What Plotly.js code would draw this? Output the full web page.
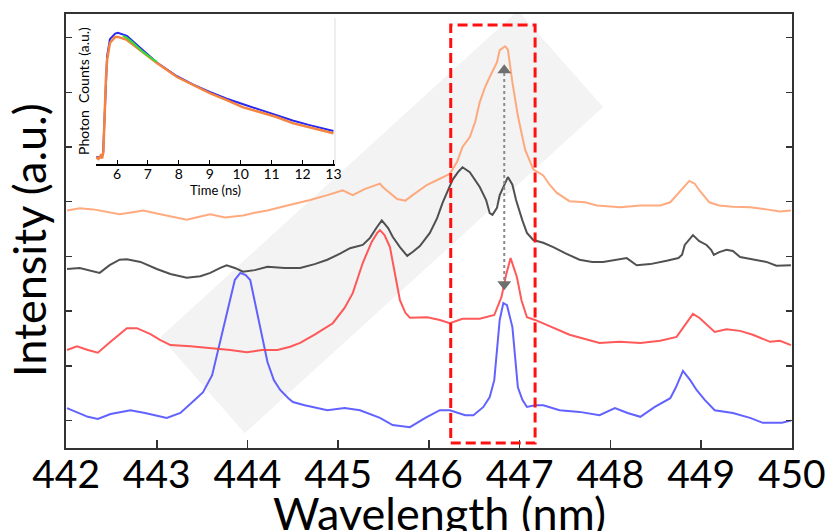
<!DOCTYPE html>
<html>
<head>
<meta charset="utf-8">
<script src="https://cdn.plot.ly/plotly-3.0.1.min.js"></script>
<style>html,body{margin:0;padding:0;background:#fff;}#chart{width:825px;height:531px;}</style>
</head>
<body>
<div id="chart"></div>
<script>
// ---- Main spectra (wavelength in nm, intensity offset in a.u.) ----
const blueX = [442.01,442.12,442.24,442.35,442.49,442.71,442.87,443.11,443.26,443.42,443.51,443.61,443.70,443.79,443.86,443.92,443.98,444.03,444.12,444.22,444.29,444.36,444.45,444.50,444.63,444.88,445.07,445.24,445.46,445.60,445.79,445.96,446.12,446.23,446.40,446.49,446.60,446.67,446.72,446.75,446.78,446.82,446.86,446.92,446.95,446.98,447.03,447.08,447.17,447.26,447.44,447.66,447.88,448.05,448.19,448.33,448.49,448.66,448.72,448.80,448.88,448.95,449.04,449.15,449.35,449.54,449.68,449.89,449.99];
const blueY = [0.23,0.16,0.07,0.03,0.12,0.19,0.14,0.05,0.14,0.38,0.52,0.83,1.47,2.11,2.57,2.70,2.66,2.57,1.84,1.07,0.74,0.56,0.41,0.34,0.28,0.19,0.23,0.19,0.05,-0.08,-0.12,0.05,0.19,0.19,0.10,0.10,0.25,0.43,0.74,1.29,1.84,2.15,2.11,1.71,1.20,0.61,0.38,0.25,0.28,0.28,0.19,0.16,0.10,0.23,0.14,0.07,0.25,0.41,0.60,0.91,0.74,0.56,0.38,0.19,0.14,0.05,-0.04,-0.04,0.00];

const redX = [442.01,442.12,442.24,442.35,442.49,442.67,442.78,442.93,443.04,443.15,443.37,443.59,443.81,443.99,444.16,444.33,444.47,444.58,444.74,444.94,445.07,445.16,445.27,445.37,445.43,445.46,445.51,445.57,445.63,445.68,445.74,445.79,445.98,446.12,446.23,446.37,446.56,446.72,446.80,446.85,446.90,446.97,447.02,447.08,447.17,447.30,447.55,447.88,448.10,448.33,448.55,448.73,448.82,448.91,448.98,449.15,449.28,449.43,449.57,449.76,449.87,449.99];
const redY = [1.29,1.36,1.29,1.24,1.44,1.69,1.69,1.58,1.47,1.38,1.36,1.33,1.29,1.25,1.29,1.29,1.35,1.42,1.57,1.78,2.06,2.33,2.88,3.27,3.43,3.48,3.39,3.17,2.66,2.20,1.97,1.88,1.89,1.84,1.78,1.86,1.86,1.93,2.26,2.66,2.97,2.62,2.20,1.89,1.84,1.75,1.57,1.42,1.44,1.42,1.46,1.53,1.75,1.95,1.88,1.62,1.67,1.64,1.57,1.44,1.46,1.38];

const blackX = [442.01,442.15,442.37,442.48,442.59,442.67,442.82,443.00,443.15,443.33,443.48,443.59,443.70,443.77,443.86,443.95,444.08,444.22,444.41,444.58,444.74,444.88,445.02,445.13,445.27,445.35,445.42,445.48,445.55,445.60,445.68,445.76,445.82,445.90,446.01,446.09,446.15,446.21,446.26,446.32,446.37,446.45,446.56,446.63,446.67,446.70,446.75,446.78,446.83,446.87,446.92,446.96,447.03,447.08,447.15,447.26,447.37,447.50,447.66,447.80,447.92,448.05,448.18,448.29,448.44,448.62,448.75,448.79,448.82,448.91,448.98,449.06,449.11,449.14,449.20,449.28,449.35,449.43,449.56,449.72,449.83,449.99];
const blackY = [2.77,2.79,2.70,2.84,2.94,2.95,2.90,2.77,2.68,2.61,2.64,2.70,2.79,2.84,2.79,2.72,2.75,2.81,2.79,2.79,2.86,2.94,3.05,3.15,3.21,3.34,3.52,3.66,3.52,3.36,3.17,3.01,3.08,3.19,3.43,3.70,3.98,4.21,4.40,4.54,4.63,4.54,4.27,4.03,3.79,3.76,3.89,4.12,4.31,4.45,4.31,4.03,3.66,3.43,3.30,3.25,3.17,3.06,2.94,2.90,2.90,2.94,2.97,2.84,2.86,2.92,2.97,3.03,3.21,3.39,3.28,3.21,3.12,3.03,3.08,3.12,3.10,2.99,2.95,2.90,2.83,2.84];

const orangeX = [442.01,442.15,442.30,442.43,442.59,442.70,442.85,443.04,443.20,443.33,443.48,443.59,443.75,443.95,444.08,444.22,444.36,444.50,444.69,444.88,445.05,445.16,445.29,445.46,445.49,445.65,445.74,445.82,445.98,446.12,446.23,446.31,446.37,446.45,446.51,446.56,446.62,446.67,446.75,446.78,446.84,446.87,446.92,446.98,447.06,447.15,447.26,447.33,447.41,447.55,447.72,447.85,448.11,448.33,448.55,448.66,448.73,448.80,448.87,448.93,448.98,449.09,449.20,449.35,449.54,449.72,449.87,449.99];
const orangeY = [3.84,3.88,3.86,3.82,3.77,3.80,3.84,3.77,3.71,3.67,3.73,3.77,3.71,3.75,3.80,3.84,3.90,3.95,4.03,4.12,4.21,4.12,4.23,4.33,4.27,4.05,4.02,4.12,4.31,4.42,4.51,4.73,5.00,5.18,5.46,5.82,6.10,6.28,6.55,6.77,6.84,6.78,6.18,5.57,4.95,4.59,4.48,4.31,4.16,4.01,3.99,3.93,3.90,3.93,3.93,3.99,4.12,4.27,4.38,4.33,4.21,3.99,3.93,3.91,3.90,3.86,3.82,3.84];

// ---- Inset: time-resolved decay (time in ns, normalised counts) ----
const decayOrangeT = [5.32,5.40,5.47,5.52,5.56,5.60,5.64,5.68,5.77,5.94,6.03,6.32,6.74,7.29,7.94,8.45,9.00,9.55,10.06,10.61,11.16,11.68,12.23,12.77,13.00];
const decayOrangeC = [0.054,0.040,0.065,0.045,0.10,0.40,0.65,0.80,0.93,0.977,0.977,0.954,0.877,0.777,0.669,0.608,0.546,0.492,0.438,0.400,0.362,0.315,0.285,0.254,0.238];
const decayBlueT = [5.32,5.47,5.55,5.60,5.64,5.68,5.77,5.94,6.03,6.32,6.74,7.29,7.94,8.45,9.00,9.55,10.06,10.61,11.16,11.68,12.23,12.77,13.00];
const decayBlueC = [0.054,0.054,0.08,0.40,0.67,0.83,0.96,1.003,1.008,0.985,0.895,0.780,0.675,0.612,0.554,0.502,0.462,0.418,0.377,0.335,0.300,0.266,0.254];
const fitT = [6.19,6.32,6.50,6.84,7.10,7.29];
const fitC = [0.985,0.969,0.935,0.862,0.815,0.785];
const insetTicks = [6,7,8,9,10,11,12,13];

// ---- Annotations (data coordinates) ----
const bandCorners = {x:[443.04,443.97,447.92,446.98], y:[1.53,-0.23,5.73,7.49]};
const boxX = [446.24,447.17], boxY = [-0.41,7.23];
const arrowX = 446.83, arrowTop = 6.50, arrowBottom = 2.39;
const xTicks = [442,443,444,445,446,447,448,449,450];
const yTicks = [0,1,2,3,4,5,6,7];

const line = (c,w)=>({color:c,width:w});
const traces = [
  {x:blueX,y:blueY,mode:'lines',line:line('rgba(70,70,255,0.85)',2),xaxis:'x',yaxis:'y'},
  {x:redX,y:redY,mode:'lines',line:line('rgba(255,60,60,0.85)',2),xaxis:'x',yaxis:'y'},
  {x:blackX,y:blackY,mode:'lines',line:line('rgba(50,50,50,0.85)',2),xaxis:'x',yaxis:'y'},
  {x:orangeX,y:orangeY,mode:'lines',line:line('rgba(255,150,95,0.8)',2),xaxis:'x',yaxis:'y'},
  {x:[arrowX,arrowX],y:[arrowTop-0.10,arrowBottom+0.10],mode:'markers',
   marker:{symbol:['triangle-up','triangle-down'],size:12,color:'#6f6f6f'},xaxis:'x',yaxis:'y'},
  {x:decayBlueT,y:decayBlueC,mode:'lines',line:line('#2a2aee',2),xaxis:'x2',yaxis:'y2'},
  {x:decayOrangeT,y:decayOrangeC,mode:'lines',line:line('#f5823e',2.5),xaxis:'x2',yaxis:'y2'},
  {x:fitT,y:fitC,mode:'lines',line:line('#33dd33',2),xaxis:'x2',yaxis:'y2'}
];

const bandPath = 'M '+bandCorners.x.map((v,i)=>v+','+bandCorners.y[i]).join(' L ')+' Z';

const layout = {
  width:825,height:531,
  margin:{l:66,r:33,t:14,b:83},
  paper_bgcolor:'#fff',plot_bgcolor:'#fff',
  showlegend:false,
  font:{family:'Lato, "Open Sans", sans-serif',color:'#000'},
  xaxis:{domain:[0,1],range:[441.999,450.002],tickvals:xTicks,ticks:'inside',ticklen:8,tickwidth:1.5,tickcolor:'#333',
    showline:true,linecolor:'#333',linewidth:2,mirror:true,showgrid:false,zeroline:false,
    ticklabeloverflow:'allow',ticklabelstandoff:-9,
    tickfont:{size:39,family:'Lato, sans-serif'}},
  yaxis:{domain:[0,1],range:[-0.5,7.43],tickvals:yTicks,showticklabels:false,ticks:'inside',ticklen:6,tickwidth:1.5,tickcolor:'#333',
    showline:true,linecolor:'#333',linewidth:2,mirror:'ticks',showgrid:false,zeroline:false},
  xaxis2:{domain:[0.0413,0.3705],anchor:'y2',range:[5.32,13.05],tickvals:insetTicks,ticks:'inside',ticklen:4,tickcolor:'#000',
    showline:true,linecolor:'#000',linewidth:1.5,showgrid:false,zeroline:false,ticklabelstandoff:-3,
    tickfont:{size:14,family:'Lato, sans-serif'},
    title:{text:'Time (ns)',font:{size:13,family:'Lato, sans-serif'},standoff:0}},
  yaxis2:{domain:[0.654,0.991],anchor:'x2',range:[0,1.123],showticklabels:false,ticks:'',showline:false,showgrid:false,zeroline:false,
    title:{text:'Photon  Counts (a.u.)',font:{size:14,family:'Lato, sans-serif'},standoff:2}},
  annotations:[
    {text:'Wavelength (nm)',xref:'paper',yref:'paper',x:0.515,y:0,xanchor:'center',yanchor:'middle',yshift:-65,
     showarrow:false,font:{size:45,family:'Lato, sans-serif',color:'#000'}},
    {text:'Intensity (a.u.)',xref:'paper',yref:'paper',x:0,y:0.479,xanchor:'center',yanchor:'middle',xshift:-37,textangle:-90,
     showarrow:false,font:{size:45,family:'Lato, sans-serif',color:'#000'}}
  ],
  shapes:[
    {type:'path',path:bandPath,xref:'x',yref:'y',fillcolor:'#f3f3f3',line:{width:0},layer:'below'},
    {type:'rect',xref:'x',yref:'y',x0:boxX[0],x1:boxX[1],y0:boxY[0],y1:boxY[1],
     line:{color:'#ff1010',width:3,dash:'10px,5px'},fillcolor:'rgba(0,0,0,0)',layer:'above'},
    {type:'line',xref:'x',yref:'y',x0:arrowX,x1:arrowX,y0:arrowTop-0.15,y1:arrowBottom+0.15,
     line:{color:'#8a8a8a',width:2,dash:'dot'},layer:'above'},
    {type:'line',xref:'x2 domain',yref:'y2 domain',x0:1,x1:1,y0:0,y1:1,line:{color:'#dddddd',width:1}}
  ]
};

Plotly.newPlot('chart',traces,layout,{staticPlot:true,displayModeBar:false});
</script>
</body>
</html>
